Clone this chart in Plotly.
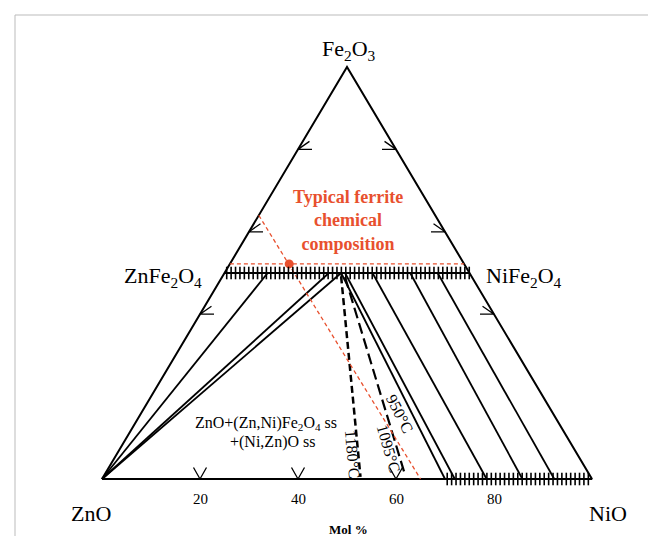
import numpy as np
import plotly.graph_objects as go

# ---------------- data (mol %), each point = (Fe2O3 %, NiO %); ZnO = remainder
tri_fe = [0, 0, 100, 0]
tri_ni = [0, 100, 0, 0]

spinel_fe = [50, 50]          # ZnFe2O4 -> NiFe2O4 join
spinel_ni = [0, 50]

rocksalt_ni = [70, 100]       # (Ni,Zn)O solid solution range on the base

zno_tie_ni = [8.8, 21.3, 23.8]            # ZnO -> spinel tie lines (spinel end, NiO %)
tie_top_ni = [23.8, 24.6, 30.2, 37.9, 43.5]  # spinel end of spinel/rock-salt tie lines
tie_bot_ni = [70.0, 72.0, 78.5, 85.8, 92.3]  # rock-salt end on base

b1180_fe = [49.2, 0.5]
b1180_ni = [24.2, 52.5]
b1095_fe = [49.0, 0.8]
b1095_ni = [25.1, 61.5]

ferrite_fe = [52.2]
ferrite_ni = [12.1]
ferrite_line_fe = [64, 0]
ferrite_line_ni = [0, 65]

tick_vals = [20, 40, 60, 80]
tick_text = ["20", "40", "60", "80"]
base_marks = [20, 40, 60]     # NiO % of V marks on base
side_marks = [40, 60, 80]     # Fe2O3 % of marks on the two sides

hatch_step = 0.9

# ---------------- geometry (pixel scale of the drawing)
PX0, PY0, SX, SY = 94, 471, 4.9, 4.12
W, H = 656, 536
FONT = "Liberation Serif"
RED = "#e8502e"


def cart(fe, ni):
    fe = np.asarray(fe, float)
    ni = np.asarray(ni, float)
    return ni + fe / 2, fe


fig = go.Figure()


def line(fe, ni, color="black", width=2, dash="solid"):
    x, y = cart(fe, ni)
    fig.add_trace(go.Scatter(x=x, y=y, mode="lines", hoverinfo="skip",
                             line=dict(color=color, width=width, dash=dash)))


# triangle
line(tri_fe, tri_ni, width=2)
# spinel join
line(spinel_fe, spinel_ni, width=2.2)
# ZnO tie lines
for n in zno_tie_ni:
    line([0, 50], [0, n], width=1.8)
# spinel / rock-salt tie lines
for t, b in zip(tie_top_ni, tie_bot_ni):
    line([50, 0], [t, b], width=1.8)
# dashed boundaries
line(b1180_fe, b1180_ni, width=2.5, dash="7px,4px")
line(b1095_fe, b1095_ni, width=2.2, dash="11px,5px")
# ferrite composition lines
line(ferrite_line_fe, ferrite_line_ni, color=RED, width=1.3, dash="4px,3px")
line([ferrite_fe[0], ferrite_fe[0]], [0, 100 - ferrite_fe[0]], color=RED, width=1.3, dash="4px,3px")
fx, fy = cart(ferrite_fe, ferrite_ni)
fig.add_trace(go.Scatter(x=fx, y=fy, mode="markers", hoverinfo="skip",
                         marker=dict(color=RED, size=9)))

# hatch ticks
sp_x = np.arange(25 + hatch_step / 2, 75, hatch_step)
fig.add_trace(go.Scatter(x=sp_x, y=np.full_like(sp_x, 50), mode="markers", hoverinfo="skip",
                         marker=dict(symbol="line-ns", size=9, line=dict(width=1.6, color="black"))))
rs_x = np.arange(rocksalt_ni[0] + hatch_step / 2, rocksalt_ni[1], hatch_step)
fig.add_trace(go.Scatter(x=rs_x, y=np.zeros_like(rs_x), mode="markers", hoverinfo="skip",
                         marker=dict(symbol="line-ns", size=9, line=dict(width=1.6, color="black"))))

# edge marks (arrow-like glyphs)
ARM = 14.0
for m in base_marks:
    fig.add_trace(go.Scatter(x=[m - 6.5 / SX, m, m + 6.5 / SX], y=[11.5 / SY, 0, 11.5 / SY],
                             mode="lines", hoverinfo="skip", line=dict(color="black", width=1.3)))
c35, s35 = np.cos(np.radians(35)), np.sin(np.radians(35))
for f in side_marks:
    xl = f / 2
    fig.add_trace(go.Scatter(x=[xl + ARM * c35 / SX, xl, xl + ARM / SX], y=[f + ARM * s35 / SY, f, f],
                             mode="lines", hoverinfo="skip", line=dict(color="black", width=1.3)))
    xr = 100 - f / 2
    fig.add_trace(go.Scatter(x=[xr - ARM * c35 / SX, xr, xr - ARM / SX], y=[f + ARM * s35 / SY, f, f],
                             mode="lines", hoverinfo="skip", line=dict(color="black", width=1.3)))


def px2data(px, py):
    return (px - PX0) / SX, (PY0 - py) / SY


def ann(text, px, py, size, color="black", xanchor="center", angle=0, bold=False):
    x, y = px2data(px, py)
    if bold:
        text = "<b>" + text + "</b>"
    fig.add_annotation(x=x, y=y, text=text, showarrow=False, xanchor=xanchor, yanchor="middle",
                       textangle=angle, font=dict(family=FONT, size=size, color=color))


ann("Fe<sub>2</sub>O<sub>3</sub>", 341, 42, 22)
ann("ZnFe<sub>2</sub>O<sub>4</sub>", 196, 269, 22, xanchor="right")
ann("NiFe<sub>2</sub>O<sub>4</sub>", 476, 269, 22, xanchor="left")
ann("ZnO", 83, 505, 22)
ann("NiO", 600, 505, 22)
ann("Mol %", 340, 521, 13, bold=True)
for v, t in zip(tick_vals, tick_text):
    fig.add_annotation(x=v, y=px2data(0, 491)[1], text=t, showarrow=False,
                       font=dict(family=FONT, size=15, color="black"))
ann("Typical ferrite<br>chemical<br>composition", 340, 212, 18, color=RED, bold=True)
ann("ZnO+(Zn,Ni)Fe<sub>2</sub>O<sub>4</sub> ss", 258, 415, 16)
ann("+(Ni,Zn)O ss", 264, 434, 16)
ann("950°C", 392, 405, 16, angle=63)
ann("1095°C", 381, 440, 16, angle=74)
ann("1180°C", 345, 446, 16, angle=85)

fig.add_shape(type="rect", xref="paper", yref="paper", x0=7 / W, x1=649 / W, y0=-0.05, y1=1 - 7 / H,
              line=dict(color="#bbbbbb", width=1))

fig.update_layout(
    width=W, height=H, margin=dict(l=0, r=0, t=0, b=0),
    paper_bgcolor="white", plot_bgcolor="white", showlegend=False,
    xaxis=dict(range=[-PX0 / SX, (W - PX0) / SX], visible=False, fixedrange=True),
    yaxis=dict(range=[(PY0 - H) / SY, PY0 / SY], visible=False, fixedrange=True),
)
fig.write_html("out.html")
